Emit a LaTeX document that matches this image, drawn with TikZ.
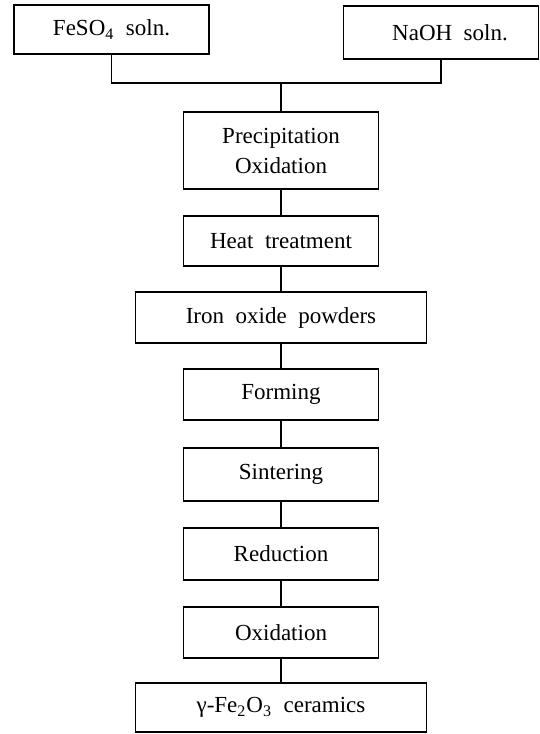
\documentclass[tikz,border=0pt]{standalone}
\usepackage{fontspec}
\setmainfont{Liberation Serif}
\usepackage{tikz}

\begin{document}
\begin{tikzpicture}[x=0.5pt, y=-0.5pt, line width=0.7pt,
  font=\fontsize{11.5}{13}\selectfont,
  box/.style={draw, minimum width=97.5pt, minimum height=25.5pt, inner sep=2pt, align=center},
  widebox/.style={box, minimum width=145.5pt}]
  \useasboundingbox (0,0) rectangle (540,734);

  % Starting solutions
  \node[box, minimum height=24.5pt] (feso) at (111.5, 29.5) {FeSO\textsubscript{4}\enspace soln.};
  \node[box, minimum height=26.5pt] (naoh) at (441, 32.5) {\hspace{9pt}NaOH\enspace soln.};
  \coordinate (mix) at (281, 83);

  % Process chain
  \node[box, minimum height=38.5pt] (prec) at (281, 150.5) {Precipitation\\[2pt]Oxidation};
  \node[box, minimum height=25pt] (heat) at (281, 241) {Heat\enspace treatment};
  \node[widebox] (iron) at (281, 317.5) {Iron\enspace oxide\enspace powders};
  \node[box] (form) at (281, 394.5) {Forming};
  \node[box, minimum height=26.5pt] (sint) at (281, 474.5) {Sintering};
  \node[box, minimum height=26pt] (redu) at (281, 554) {Reduction};
  \node[box] (oxid) at (281, 632.5) {Oxidation};
  \node[widebox, minimum height=24.5pt] (cera) at (281, 707.5) {γ-Fe\textsubscript{2}O\textsubscript{3}\enspace ceramics};

  % Connectors
  \draw (feso.south) |- (mix) -| (naoh.south);
  \draw (mix) -- (prec.north);
  \draw (prec) -- (heat);
  \draw (heat) -- (iron);
  \draw (iron) -- (form);
  \draw (form) -- (sint);
  \draw (sint) -- (redu);
  \draw (redu) -- (oxid);
  \draw (oxid) -- (cera);
\end{tikzpicture}
\end{document}
